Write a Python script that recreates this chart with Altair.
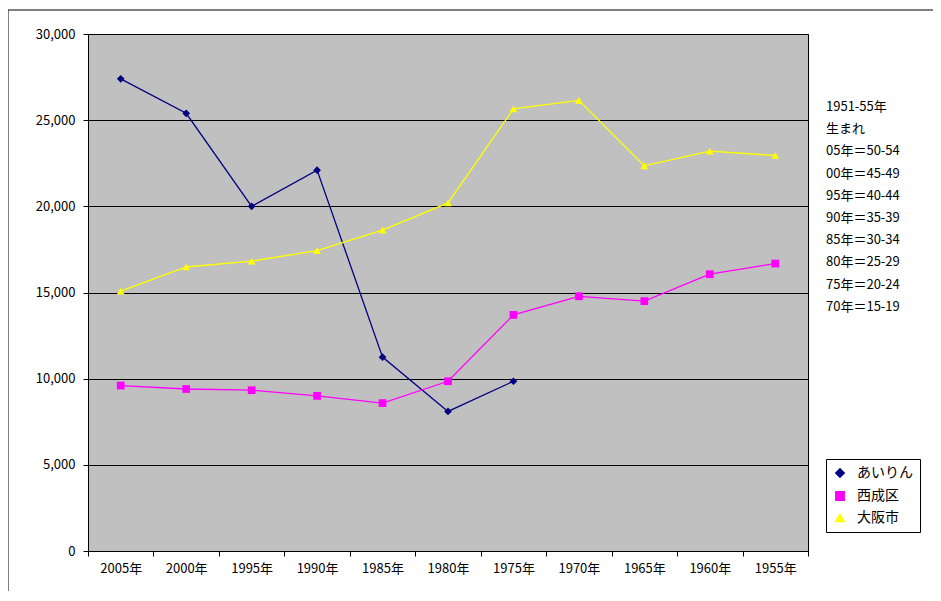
import altair as alt
import pandas as pd

years = ["2005年", "2000年", "1995年", "1990年", "1985年", "1980年", "1975年",
         "1970年", "1965年", "1960年", "1955年"]
airin = [27400, 25400, 20000, 22100, 11250, 8100, 9850]
nishinari = [9600, 9400, 9330, 9000, 8580, 9850, 13700, 14780, 14500, 16060, 16680]
osaka = [15080, 16480, 16820, 17430, 18620, 20200, 25650, 26150, 22350, 23200, 22950]
series = ["あいりん", "西成区", "大阪市"]
colors = ["#000080", "#FF00FF", "#FFFF00"]
shapes = ["diamond", "square", "triangle-up"]
note = ["1951-55年", "生まれ", "05年＝50-54", "00年＝45-49", "95年＝40-44",
        "90年＝35-39", "85年＝30-34", "80年＝25-29", "75年＝20-24", "70年＝15-19"]

rows = []
for name, vals in zip(series, [airin, nishinari, osaka]):
    for y, v in zip(years, vals):
        rows.append({"year": y, "value": v, "系列": name})
df = pd.DataFrame(rows)

font = "Noto Sans CJK JP"
x = alt.X("year:N", sort=years, title=None,
          scale=alt.Scale(paddingInner=0, paddingOuter=0),
          axis=alt.Axis(labelAngle=0, tickBand="extent", labelFontSize=13,
                        labelColor="black", domainColor="black", tickColor="black",
                        labelPadding=6, labelFont=font))
y = alt.Y("value:Q", title=None, scale=alt.Scale(domain=[0, 30000]),
          axis=alt.Axis(values=list(range(0, 30001, 5000)), format=",d", labelFontSize=13,
                        labelColor="black", gridColor="black", gridOpacity=1,
                        domainColor="black", tickColor="black", labelPadding=8,
                        labelFont=font))
color = alt.Color("系列:N", scale=alt.Scale(domain=series, range=colors),
                  legend=alt.Legend(title=None, orient="none", legendX=738, legendY=425,
                                    strokeColor="black", fillColor="white", padding=7,
                                    labelFontSize=14, labelFont=font, symbolSize=70,
                                    rowPadding=7, symbolStrokeWidth=1.5, labelOffset=10))
shape = alt.Shape("系列:N", scale=alt.Scale(domain=series, range=shapes), legend=None)

base = alt.Chart(df)
lines = base.mark_line(strokeWidth=1.3).encode(x=x, y=y, color=color)
pts = base.mark_point(filled=True, size=60, opacity=1).encode(x=x, y=y, color=color, shape=shape)
text = alt.Chart(pd.DataFrame({"t": [note]})).mark_text(
    align="left", baseline="top", fontSize=13, lineHeight=22.2, font=font, color="black"
).encode(text="t:N", x=alt.value(738), y=alt.value(67))
frame_l = alt.Chart(pd.DataFrame({"a": [0]})).mark_rule(color="black", clip=False).encode(
    x=alt.value(-80), y=alt.value(-24), y2=alt.value(570))
frame_t = alt.Chart(pd.DataFrame({"a": [0]})).mark_rule(color="black", clip=False).encode(
    x=alt.value(-80), x2=alt.value(860), y=alt.value(-24))

chart = alt.layer(lines, pts, text, frame_l, frame_t).properties(
    width=720, height=517, background="white",
    autosize=alt.AutoSizeParams(type="none"),
    padding={"left": 80, "top": 26, "right": 125, "bottom": 40},
).configure_view(fill="#C0C0C0", stroke="black", strokeWidth=1)

chart.save("out.html", embed_options={"renderer": "svg", "actions": False})
